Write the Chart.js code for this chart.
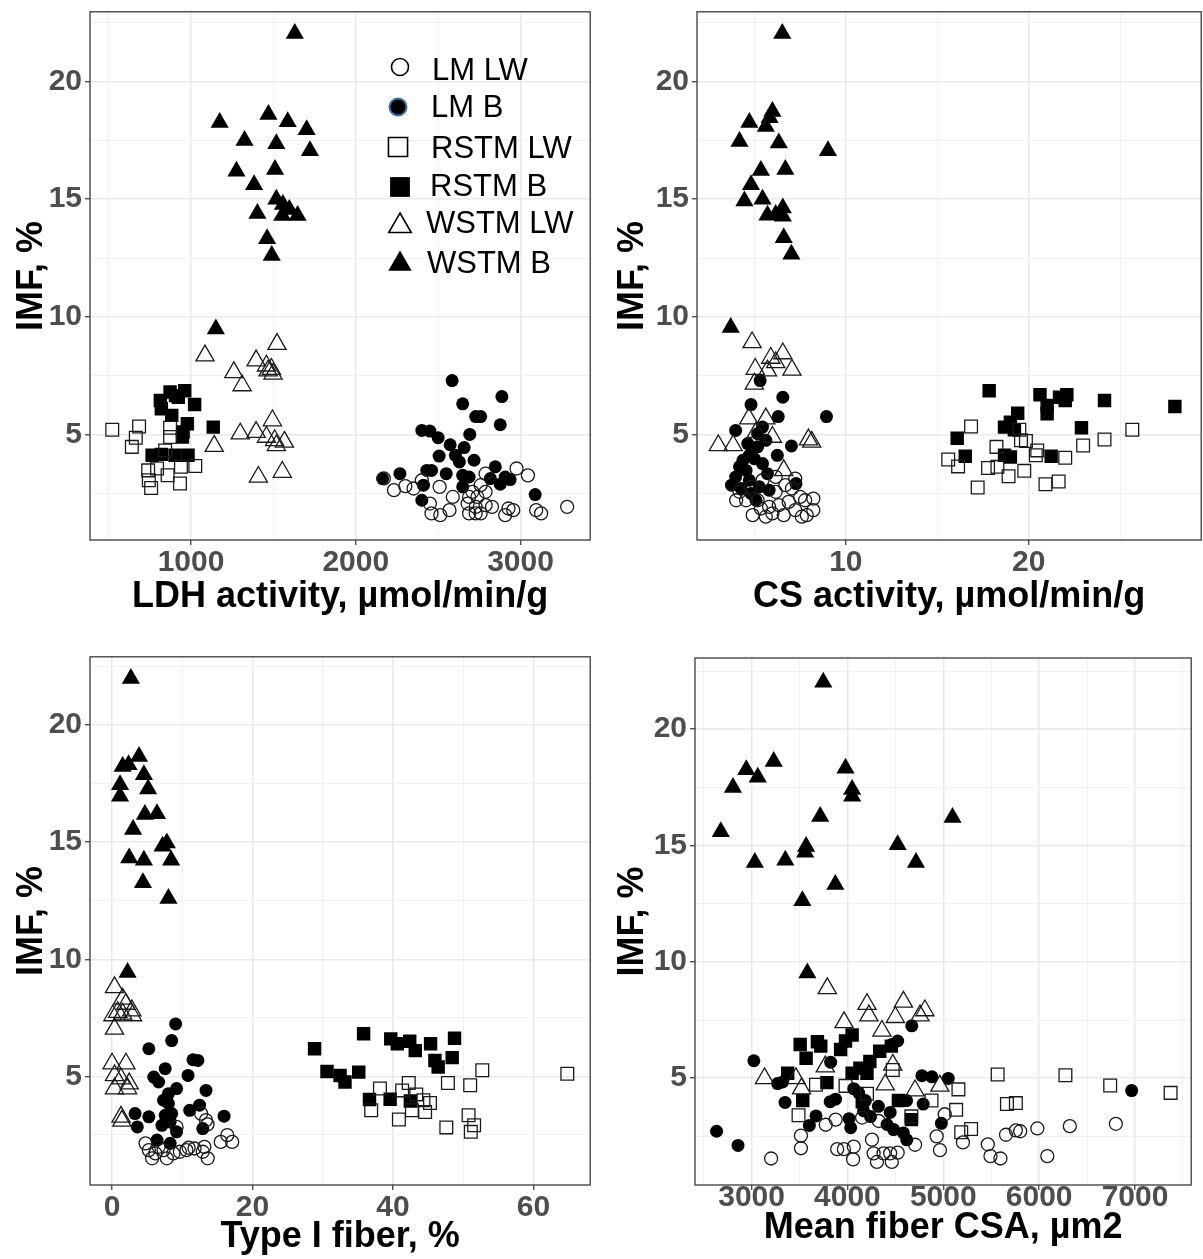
<!DOCTYPE html>
<html>
<head>
<meta charset="utf-8">
<title>IMF vs muscle traits</title>
<script src="https://cdn.jsdelivr.net/npm/chart.js@4.4.0/dist/chart.umd.min.js"></script>
<style>
  html, body { margin: 0; padding: 0; background: #fff; width: 1203px; height: 1259px; overflow: hidden; }
  canvas { position: absolute; }
</style>
</head>
<body>
<canvas id="chart-ldh"></canvas>
<canvas id="chart-cs"></canvas>
<canvas id="chart-type1"></canvas>
<canvas id="chart-csa"></canvas>
<script>
/* ── Series & axis labels ── */
const seriesNames = ['LM LW', 'LM B', 'RSTM LW', 'RSTM B', 'WSTM LW', 'WSTM B'];
const yTitle = 'IMF, %';
const yTickLabels = [5, 10, 15, 20];

// ── LDH activity panel (x = µmol/min/g, y = IMF %) ──
const ldhTitle = 'LDH activity, µmol/min/g';
const ldhTickLabels = [1000, 2000, 3000];
const ldhLmLw = [[2170,3.13],[2232,2.63],[2301,2.80],[2351,2.70],[2450,2.06],[2460,1.64],[2513,1.57],[2569,1.78],[2589,2.34],[2679,2.06],[2688,2.34],[2728,1.92],[2738,2.34],[2728,1.64],[2758,1.64],[2788,2.56],[2788,1.99],[2827,1.92],[2907,1.57],[2927,1.85],[2956,1.78],[2976,3.55],[3045,3.26],[3095,1.78],[3125,1.64],[3283,1.92],[2788,3.33],[2758,2.84],[2708,2.56],[2509,2.77],[2401,3.05],[2688,1.64]];
const ldhLmB = [[2585,7.29],[2887,6.61],[2649,6.30],[2728,5.76],[2758,5.76],[2877,5.41],[2401,5.17],[2450,5.14],[2500,4.86],[2692,5.00],[2573,4.56],[2658,4.44],[2506,4.08],[2605,4.11],[2718,3.90],[2460,3.47],[2549,3.33],[2649,3.26],[2688,3.19],[2847,3.62],[2817,3.12],[2907,3.19],[2937,3.08],[2877,2.88],[2268,3.33],[2163,3.12],[2411,2.84],[2649,2.77],[2401,2.20],[3089,2.44],[2431,3.47],[2629,3.83]];
const ldhRstmLw = [[522,5.20],[685,5.34],[665,4.86],[641,4.47],[873,5.28],[873,4.89],[843,4.32],[740,3.47],[744,3.05],[758,2.72],[858,3.26],[939,3.62],[1026,3.66],[933,2.91],[794,3.55]];
const ldhRstmB = [[962,6.86],[906,6.65],[814,6.44],[1022,6.27],[820,6.09],[883,5.81],[978,5.45],[1135,5.31],[952,5.10],[948,4.89],[764,4.11],[820,4.15],[903,4.11],[982,4.11],[923,6.58],[873,6.80]];
const ldhWstmLw = [[1085,8.35],[1522,8.84],[1395,8.14],[1458,7.92],[1488,7.78],[1498,7.57],[1468,7.71],[1260,7.64],[1310,7.08],[1494,5.59],[1299,5.03],[1395,5.10],[1458,4.89],[1508,4.75],[1567,4.68],[1518,4.53],[1141,4.50],[1409,3.19],[1554,3.40]];
const ldhWstmB = [[1630,22.05],[1174,18.26],[1470,18.60],[1587,18.30],[1702,17.95],[1325,17.50],[1518,17.36],[1722,17.06],[1276,16.19],[1510,16.26],[1383,15.62],[1518,15.00],[1558,14.78],[1597,14.56],[1403,14.39],[1554,14.31],[1647,14.31],[1462,13.32],[1490,12.61],[1151,9.48]];

// ── CS activity panel ──
const csTitle = 'CS activity, µmol/min/g';
const csTickLabels = [10, 20];
const csLmLw = [[6.16,3.19],[7.23,3.12],[6.69,2.84],[4.18,2.56],[4.54,2.20],[7.50,2.34],[8.22,2.27],[6.87,2.13],[6.33,1.99],[5.80,1.92],[5.35,1.85],[4.90,1.57],[5.98,1.64],[6.60,1.57],[7.23,1.78],[7.59,1.50],[7.86,1.57],[8.22,1.78],[5.62,1.50],[4.00,2.20],[4.81,2.77],[5.44,3.05],[7.05,2.70],[6.16,2.56],[7.77,2.20],[5.17,2.20]];
const csLmB = [[5.31,7.29],[6.55,6.58],[4.81,6.27],[6.30,5.76],[8.94,5.76],[3.97,5.17],[5.44,5.31],[5.17,5.03],[4.63,4.61],[5.62,4.75],[7.02,4.51],[6.25,4.11],[4.72,4.11],[4.99,3.97],[4.18,3.62],[4.54,3.47],[5.44,3.76],[5.71,3.33],[3.97,3.19],[4.72,3.05],[3.74,2.84],[5.26,2.77],[5.80,2.63],[7.27,2.91],[4.27,2.70],[4.81,2.49],[5.08,2.20],[4.37,3.90],[5.17,4.47]];
const csRstmLw = [[16.85,5.34],[25.67,5.20],[19.49,5.20],[19.58,4.75],[19.85,4.72],[22.98,4.53],[24.15,4.78],[18.24,4.47],[20.47,4.32],[20.39,4.11],[22.00,4.01],[15.60,3.93],[16.14,3.64],[17.78,3.57],[18.29,3.62],[19.76,3.45],[18.90,3.22],[21.64,3.00],[20.92,2.88],[17.21,2.74]];
const csRstmB = [[17.84,6.86],[20.62,6.69],[21.69,6.58],[22.09,6.69],[21.01,6.23],[22.00,6.44],[21.01,5.88],[24.15,6.44],[28.00,6.19],[19.40,5.90],[19.00,5.52],[18.68,5.31],[19.22,5.20],[22.89,5.28],[16.09,4.84],[16.53,4.07],[18.68,4.11],[19.00,4.04],[21.23,4.07]];
const csWstmLw = [[4.87,8.91],[6.55,8.44],[5.89,8.25],[6.16,8.06],[5.04,7.78],[5.71,7.71],[7.05,7.74],[4.99,7.15],[4.69,5.67],[5.62,5.67],[5.98,4.89],[3.02,4.53],[3.83,4.53],[7.95,4.78],[8.13,4.68],[6.60,3.47],[5.10,5.10]];
const csWstmB = [[6.52,22.05],[4.72,18.26],[5.98,18.73],[5.83,18.47],[5.62,18.09],[4.18,17.46],[6.33,17.39],[9.02,17.06],[5.35,16.22],[6.69,16.26],[4.81,15.62],[4.45,14.92],[5.44,15.00],[5.71,14.32],[6.16,14.35],[6.55,14.63],[6.55,14.28],[6.60,13.36],[7.02,12.66],[3.70,9.55]];

// ── Type I fiber panel ──
const type1Title = 'Type I fiber, %';
const type1TickLabels = [0, 20, 40, 60];
const type1LmLw = [[5.24,1.85],[6.17,1.71],[5.70,1.50],[7.33,1.85],[7.80,1.50],[8.73,1.71],[9.66,1.78],[10.59,1.85],[11.75,1.92],[12.92,1.78],[13.62,1.50],[13.15,1.99],[15.48,2.20],[16.41,2.49],[17.11,2.20],[13.38,3.13],[13.60,2.95],[12.68,3.41],[9.19,2.84],[4.77,2.14],[6.63,1.99],[10.90,1.95]];
const type1LmB = [[9.05,7.24],[8.49,6.53],[5.24,6.18],[11.52,5.71],[12.22,5.68],[7.57,5.33],[10.82,5.04],[5.94,4.97],[6.63,4.76],[9.19,4.48],[13.38,4.40],[8.03,4.26],[8.03,3.84],[12.46,3.77],[11.06,3.55],[3.28,3.41],[5.24,3.27],[7.57,3.34],[8.49,3.41],[15.95,3.30],[3.60,2.84],[7.10,2.91],[9.19,2.63],[12.92,2.77],[6.40,2.28],[8.27,2.14],[8.27,3.05],[7.33,3.98]];
const type1RstmLw = [[64.83,5.11],[52.72,5.26],[47.83,4.72],[51.00,4.62],[42.25,4.72],[38.15,4.48],[41.31,4.40],[43.32,4.23],[45.28,3.86],[44.34,3.98],[36.90,3.55],[42.70,3.55],[44.58,3.48],[40.85,3.16],[50.77,3.34],[51.56,2.91],[51.09,2.63],[47.60,2.82]];
const type1RstmB = [[28.84,6.18],[35.82,6.82],[39.69,6.60],[40.62,6.39],[42.39,6.50],[43.18,6.10],[45.36,6.39],[48.77,6.63],[45.98,5.68],[46.44,5.40],[48.44,5.80],[30.61,5.21],[32.47,5.04],[33.17,4.76],[35.13,5.18],[36.66,4.01],[39.60,4.02],[42.48,3.95]];
const type1WstmLw = [[0.35,8.80],[1.51,8.31],[1.98,8.09],[2.82,7.81],[0.81,7.74],[1.51,7.67],[2.91,7.60],[0.12,7.60],[0.35,7.03],[0.00,5.54],[1.98,5.54],[0.35,5.04],[1.28,4.90],[2.44,4.69],[0.35,4.48],[2.21,4.48],[1.28,3.27],[1.40,3.10]];
const type1WstmB = [[2.68,21.99],[3.84,18.66],[2.35,18.31],[1.51,18.23],[4.54,17.88],[1.14,17.46],[5.14,17.27],[1.14,16.96],[4.68,16.18],[6.40,16.22],[3.00,15.54],[7.80,14.97],[7.19,14.83],[8.41,14.23],[2.44,14.33],[4.54,14.23],[4.40,13.27],[8.03,12.60],[2.21,9.44]];

// ── Mean fiber CSA panel ──
const csaTitle = 'Mean fiber CSA, µm2';
const csaTickLabels = [3000, 4000, 5000, 6000, 7000];
const csaLmLw = [[3204,1.55],[3515,2.53],[3515,1.99],[3774,3.00],[3877,3.22],[3893,1.95],[3963,1.95],[4066,2.06],[4059,1.51],[4256,2.36],[4273,1.77],[4308,1.40],[4377,1.77],[4446,1.77],[4463,1.40],[4524,1.80],[4706,2.14],[4931,2.50],[4965,1.91],[5205,2.24],[5015,3.45],[4153,3.31],[4327,3.16],[5464,2.16],[5492,1.65],[5596,1.55],[5654,2.57],[5757,2.76],[5802,2.72],[5981,2.84],[6085,1.65],[6320,2.94],[6800,3.04]];
const csaLmB = [[4671,7.25],[3024,5.75],[3825,5.69],[4524,6.60],[4466,6.45],[4777,5.11],[4881,5.06],[5052,4.99],[3272,4.77],[3324,4.84],[4066,4.55],[3349,3.96],[3820,3.99],[3876,4.10],[4187,4.04],[4168,3.60],[4323,3.79],[4617,4.04],[4790,3.89],[4446,3.53],[3672,3.38],[3603,2.97],[4017,3.26],[4034,2.87],[4241,3.35],[4413,3.01],[4482,2.79],[4584,2.65],[4619,2.35],[4980,3.06],[2635,2.72],[2859,2.11],[6965,4.47],[4118,4.37]];
const csaRstmLw = [[3672,4.72],[3980,4.67],[4473,5.35],[4204,4.33],[3490,3.41],[4667,3.36],[4877,4.04],[5158,4.52],[5134,3.64],[5290,2.82],[5187,2.68],[5567,5.16],[6274,5.13],[6741,4.69],[7371,4.37],[5664,3.89],[5757,3.93]];
const csaRstmB = [[3507,6.45],[3687,6.57],[3722,6.38],[4049,6.86],[3980,6.60],[3929,6.23],[3569,5.86],[4337,6.16],[4458,6.38],[4234,5.72],[4130,5.43],[4049,5.21],[4204,5.21],[3377,5.21],[3786,4.81],[3534,4.04],[4532,4.04],[4155,3.99],[4667,3.22]];
const csaWstmLw = [[3790,8.86],[4204,8.18],[4584,8.28],[4808,7.91],[4757,7.69],[4224,7.69],[4500,7.62],[3965,7.40],[4360,7.03],[3769,5.50],[4473,5.57],[3135,4.99],[3463,4.99],[4394,4.72],[4705,4.47],[4964,4.67],[3521,4.55]];
const csaWstmB = [[3748,22.02],[3231,18.61],[2945,18.26],[3065,17.93],[2806,17.49],[3980,18.32],[4049,17.41],[4049,17.12],[3716,16.25],[5096,16.21],[2679,15.59],[4524,15.03],[3569,14.96],[3559,14.71],[3034,14.27],[3352,14.37],[4715,14.27],[3874,13.32],[3530,12.63],[3582,9.52]];

/* ── Look & feel ── */
const FONT = '"Liberation Sans", Arial, sans-serif';
const MARKERS = [
  { pointStyle: 'circle',   filled: false, radius: 6.5 },
  { pointStyle: 'circle',   filled: true,  radius: 6.5 },
  { pointStyle: 'rect',     filled: false, radius: 9 },
  { pointStyle: 'rect',     filled: true,  radius: 9.5 },
  { pointStyle: 'triangle', filled: false, radius: 10.5 },
  { pointStyle: 'triangle', filled: true,  radius: 10.5 },
];

const toXY = arr => arr.map(([x, y]) => ({ x, y }));

// ticks: labelled majors + unlabelled minor gridlines halfway between
function buildTicks(labels, step, min, max) {
  const out = [];
  const start = Math.ceil(min / (step / 2)) * (step / 2);
  for (let v = start; v <= max + 1e-9; v += step / 2) {
    const val = Math.round(v * 1000) / 1000;
    out.push({ value: val, minor: !labels.includes(val) });
  }
  return out;
}

function axis(opts) {
  const isX = opts.pos === 'bottom';
  return {
    type: 'linear',
    position: opts.pos,
    min: opts.min,
    max: opts.max,
    afterBuildTicks: s => { s.ticks = buildTicks(opts.labels, opts.step, opts.min, opts.max); },
    afterFit: s => {
      // fixed axis box, no extra room for overhanging labels
      if (isX) s.height = opts.size; else s.width = opts.size;
      s.paddingTop = 0; s.paddingBottom = 0; s.paddingLeft = 0; s.paddingRight = 0;
    },
    border: { display: false },
    grid: {
      color: c => (c.tick && c.tick.minor) ? '#f1f1f1' : '#e9e9e9',
      lineWidth: c => (c.tick && c.tick.minor) ? 1 : 1.5,
      tickColor: c => (c.tick && c.tick.minor) ? 'rgba(0,0,0,0)' : '#333',
      tickLength: 5,
      tickWidth: 1.2,
    },
    ticks: {
      autoSkip: false,
      maxRotation: 0,
      padding: opts.tickPad,
      color: '#4d4d4d',
      font: { family: FONT, size: 30, weight: 'bold' },
      callback: (v, i, ticks) => ticks[i].minor ? '' : String(v),
    },
    title: {
      display: true,
      text: opts.title,
      color: '#000',
      font: { family: FONT, size: 36, weight: 'bold' },
      padding: isX ? { top: 0, bottom: opts.titlePad } : { top: opts.titlePad, bottom: 0 },
    },
  };
}

// ── Plugins ──
const panelBorder = {
  id: 'panelBorder',
  afterDatasetsDraw(chart) {
    const { ctx, chartArea: a } = chart;
    ctx.save();
    ctx.strokeStyle = '#3a3a3a';
    ctx.lineWidth = 1.3;
    ctx.strokeRect(a.left, a.top, a.right - a.left, a.bottom - a.top);
    ctx.restore();
  }
};

function drawMarker(ctx, style, x, y, r) {
  ctx.beginPath();
  if (style === 'circle') {
    ctx.arc(x, y, r, 0, Math.PI * 2);
  } else if (style === 'rect') {
    const h = r * Math.SQRT1_2;
    ctx.rect(x - h, y - h, 2 * h, 2 * h);
  } else {
    ctx.moveTo(x, y - r);
    ctx.lineTo(x + Math.sin(Math.PI * 2 / 3) * r, y + r / 2);
    ctx.lineTo(x - Math.sin(Math.PI * 2 / 3) * r, y + r / 2);
    ctx.closePath();
  }
}

// legend that sits inside the first panel
const insideLegend = {
  id: 'insideLegend',
  afterDraw(chart, args, opts) {
    if (!opts.items) return;
    const ctx = chart.ctx;
    ctx.save();
    ctx.font = '31px ' + FONT;
    ctx.textBaseline = 'middle';
    ctx.textAlign = 'left';
    opts.items.forEach((it, i) => {
      const m = MARKERS[i];
      drawMarker(ctx, m.pointStyle, it.mx, it.my, it.r);
      if (m.filled) {
        ctx.fillStyle = '#000';
        ctx.fill();
        if (i === 1) { ctx.strokeStyle = '#41719c'; ctx.lineWidth = 2; ctx.stroke(); }
      } else {
        ctx.strokeStyle = '#000';
        ctx.lineWidth = 1.6;
        ctx.stroke();
      }
      ctx.fillStyle = '#000';
      ctx.fillText(seriesNames[i], it.tx, it.ty);
    });
    ctx.restore();
  }
};

function makePanel(p) {
  const el = document.getElementById(p.id);
  el.width = p.box.w;
  el.height = p.box.h;
  el.style.left = p.box.x + 'px';
  el.style.top = p.box.y + 'px';

  const datasets = p.series.map((arr, i) => {
    const m = MARKERS[i];
    return {
      label: seriesNames[i],
      data: toXY(arr),
      pointStyle: m.pointStyle,
      pointRadius: m.radius,
      backgroundColor: m.filled ? '#000' : 'rgba(0,0,0,0)',
      borderColor: m.filled ? '#000' : '#1a1a1a',
      borderWidth: m.filled ? 0 : 1.3,
      order: m.filled ? 1 : 0,
    };
  });

  return new Chart(el, {
    type: 'scatter',
    data: { datasets },
    plugins: [panelBorder, insideLegend],
    options: {
      responsive: false,
      animation: false,
      devicePixelRatio: 1,
      events: [],
      layout: { padding: { left: 0, top: p.padTop, right: p.padRight, bottom: 0 } },
      plugins: {
        legend: { display: false },
        tooltip: { enabled: false },
        insideLegend: { items: p.legend || null },
      },
      scales: {
        x: axis({ pos: 'bottom', min: p.x[0], max: p.x[1], labels: p.xLabels, step: p.xStep,
                  size: p.xHeight, title: p.xTitle, titlePad: p.xTitlePad, tickPad: p.xTickPad }),
        y: axis({ pos: 'left', min: p.y[0], max: p.y[1], labels: yTickLabels, step: 5,
                  size: p.yWidth, title: yTitle, titlePad: 10, tickPad: 3 }),
      }
    }
  });
}

makePanel({
  id: 'chart-ldh', box: { x: 0, y: 0, w: 602, h: 625 },
  padTop: 10, padRight: 2, yWidth: 90, xHeight: 85, xTitlePad: 6, xTickPad: 0,
  x: [387, 3423], y: [0.51, 22.97], xLabels: ldhTickLabels, xStep: 1000, xTitle: ldhTitle,
  series: [ldhLmLw, ldhLmB, ldhRstmLw, ldhRstmB, ldhWstmLw, ldhWstmB],
  legend: [
    { mx: 400, my: 67,  r: 8.5,  tx: 432, ty: 71 },
    { mx: 398, my: 107, r: 8.5,  tx: 431, ty: 108 },
    { mx: 398, my: 147, r: 13.5, tx: 431, ty: 149 },
    { mx: 400, my: 187, r: 14,   tx: 430, ty: 187 },
    { mx: 400, my: 226, r: 13,   tx: 426, ty: 224 },
    { mx: 400, my: 264, r: 13.5, tx: 427, ty: 264 },
  ],
});

// right edge of this panel lies just outside the picture, as in the original
makePanel({
  id: 'chart-cs', box: { x: 601, y: 0, w: 612, h: 625 },
  padTop: 10, padRight: 3, yWidth: 96, xHeight: 85, xTitlePad: 6, xTickPad: 0,
  x: [1.855, 29.44], y: [0.51, 22.97], xLabels: csTickLabels, xStep: 10, xTitle: csTitle,
  series: [csLmLw, csLmB, csRstmLw, csRstmB, csWstmLw, csWstmB],
});

makePanel({
  id: 'chart-type1', box: { x: 0, y: 645, w: 602, h: 614 },
  padTop: 10, padRight: 2, yWidth: 90, xHeight: 74, xTitlePad: 0, xTickPad: 0,
  x: [-3.14, 68.09], y: [0.36, 22.92], xLabels: type1TickLabels, xStep: 20, xTitle: type1Title,
  series: [type1LmLw, type1LmB, type1RstmLw, type1RstmB, type1WstmLw, type1WstmB],
});

makePanel({
  id: 'chart-csa', box: { x: 601, y: 645, w: 602, h: 614 },
  padTop: 13, padRight: 8, yWidth: 94, xHeight: 74, xTitlePad: 9, xTickPad: -10,
  x: [2410, 7586], y: [0.41, 23.06], xLabels: csaTickLabels, xStep: 1000, xTitle: csaTitle,
  series: [csaLmLw, csaLmB, csaRstmLw, csaRstmB, csaWstmLw, csaWstmB],
});
</script>
</body>
</html>
